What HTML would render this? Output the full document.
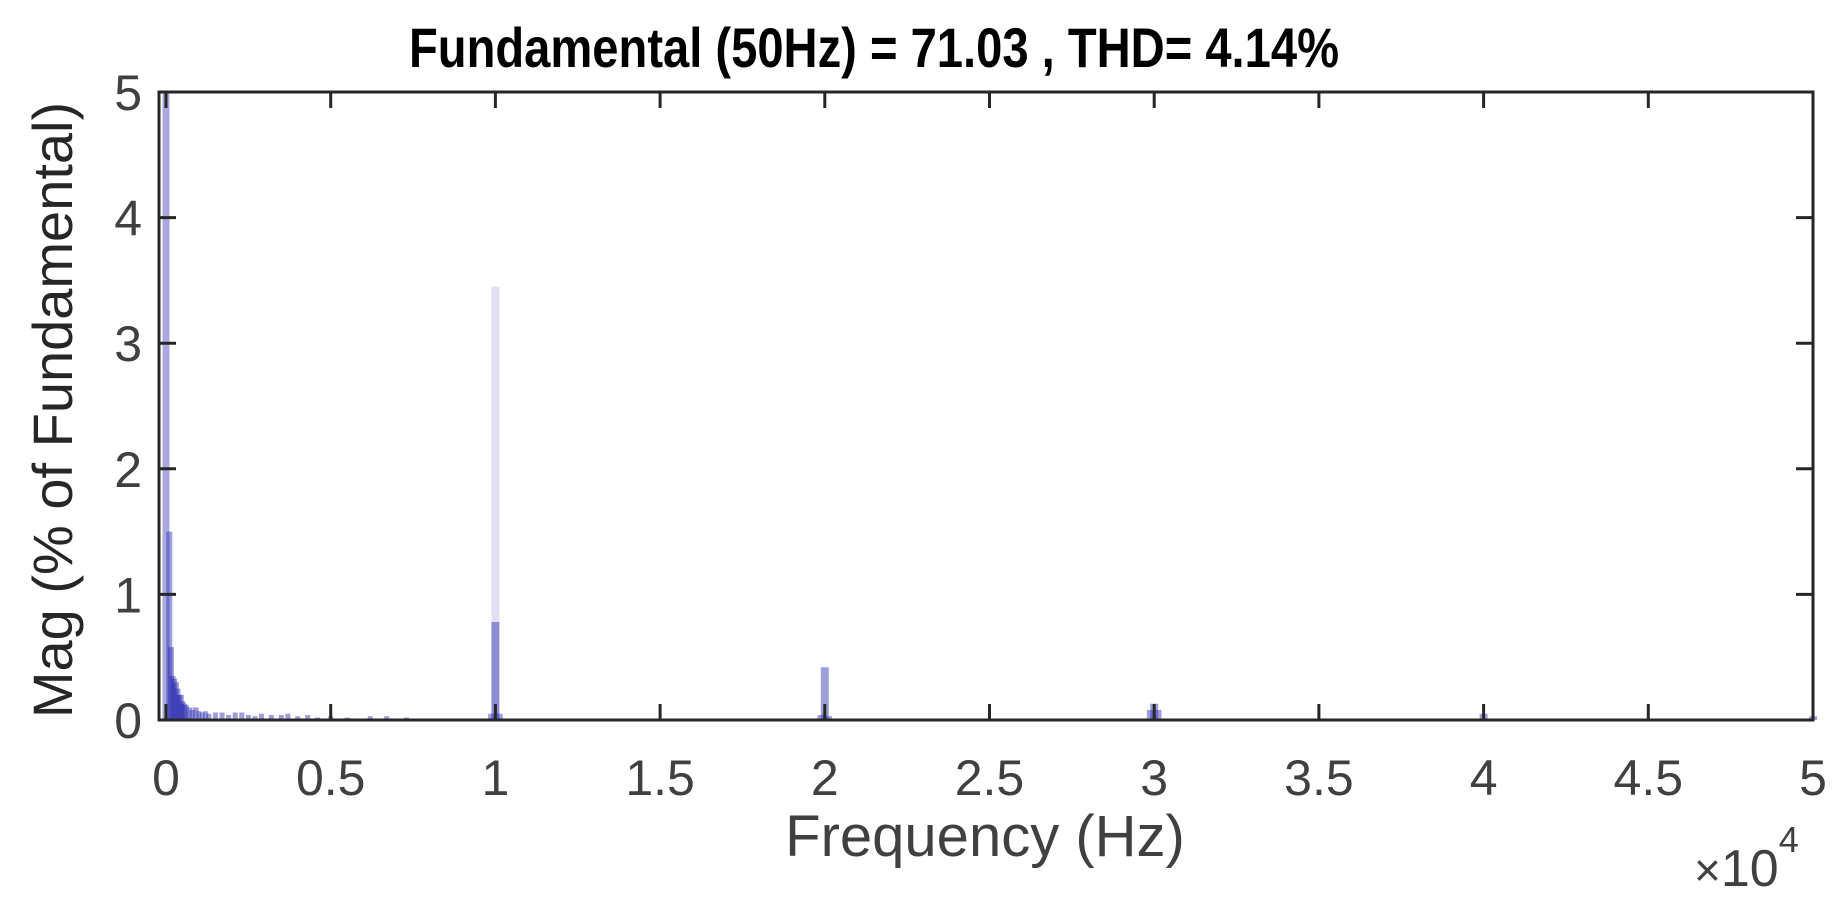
<!DOCTYPE html>
<html><head><meta charset="utf-8"><style>
html,body{margin:0;padding:0;background:#fff;}
svg{display:block;}
text{font-family:"Liberation Sans",sans-serif;}
</style></head><body>
<svg id="chart" width="1844" height="898" viewBox="0 0 1844 898" xmlns="http://www.w3.org/2000/svg">
<rect x="0" y="0" width="1844" height="898" fill="#fff"/>
<text x="874" y="67" text-anchor="middle" font-size="56" font-weight="bold" fill="#000" textLength="930" lengthAdjust="spacingAndGlyphs">Fundamental (50Hz) = 71.03 , THD= 4.14%</text>
<g id="bars"></g>
<g id="axes"></g>
<text transform="translate(72,410) rotate(-90)" text-anchor="middle" font-size="56" fill="#262626">Mag (% of Fundamental)</text>
<text x="985" y="856" text-anchor="middle" font-size="58" fill="#404040">Frequency (Hz)</text>
<text x="1694" y="886" font-size="52" fill="#404040"><tspan font-size="46">×</tspan>10<tspan font-size="36" dy="-34">4</tspan></text>
</svg>
<script>
// data
const freqs = [0,100,150,200,250,300,350,400,450,500,550,600,700,800,900,1000,1100,1200,1300,1500,1700,1900,2100,2300,2500,2700,2900,3200,3500,3700,4000,4300,4600,5000,5500,6200,6700,7300,9900,10000,10100,19900,20000,20100,29900,30000,30100,40000,50000];
const mags  = [100,1.5,0.58,0.35,0.33,0.3,0.25,0.2,0.2,0.15,0.13,0.12,0.1,0.08,0.1,0.07,0.06,0.07,0.05,0.06,0.06,0.04,0.06,0.06,0.04,0.03,0.05,0.04,0.04,0.05,0.03,0.04,0.02,0.03,0.02,0.03,0.03,0.02,0.05,0.78,0.05,0.04,0.42,0.03,0.08,0.13,0.08,0.05,0.03];
const leakFreqs = [10000];
const leakMags = [3.45];
const xTicks = [0,5000,10000,15000,20000,25000,30000,35000,40000,45000,50000];
const xTickLabels = ["0","0.5","1","1.5","2","2.5","3","3.5","4","4.5","5"];
const yTicks = [0,1,2,3,4,5];
const yTickLabels = ["0","1","2","3","4","5"];

const L=159, R=1813, T=92, B=720;
const X0=166, XU=(1813-166)/50000;
const sx = f => X0 + f*XU;
const sy = v => B - (Math.min(v,5))*(B-T)/5;
const NS="http://www.w3.org/2000/svg";
const bars=document.getElementById('bars');
const axes=document.getElementById('axes');
function mk(tag,attrs,parent){const e=document.createElementNS(NS,tag);for(const k in attrs)e.setAttribute(k,attrs[k]);parent.appendChild(e);return e;}

leakFreqs.forEach((f,i)=>{
  const r=mk('rect',{x:sx(f)-4,y:sy(leakMags[i]),width:8,height:B-sy(leakMags[i]),fill:'#e0e0f2'},bars);
  
  
});
freqs.forEach((f,i)=>{
  const w = f===0?7:(f>=9000?8:(f<1000?6:5));
  const r=mk('rect',{x:sx(f)-w/2,y:sy(mags[i]),width:w,height:B-sy(mags[i]),fill:'rgb(40,40,175)','fill-opacity':f===0?0.4:0.45},bars);
  
  
});

// frame
const fr=mk('rect',{x:L,y:T,width:R-L,height:B-T,fill:'none',stroke:'#262626','stroke-width':3},axes);



xTicks.forEach((t,i)=>{
  const x=sx(t);
  const a=mk('line',{x1:x,x2:x,y1:B,y2:B-16,stroke:'#262626','stroke-width':3},axes);
  
  
  const b=mk('line',{x1:x,x2:x,y1:T,y2:T+16,stroke:'#262626','stroke-width':3},axes);
  
  
  const tx=mk('text',{x:x,y:795,'text-anchor':'middle','font-size':50,fill:'#404040'},axes);
  tx.textContent=xTickLabels[i];
  
  
});
yTicks.forEach((t,i)=>{
  const y=sy(t);
  const a=mk('line',{x1:L,x2:L+17,y1:y,y2:y,stroke:'#262626','stroke-width':3},axes);
  
  
  const b=mk('line',{x1:R,x2:R-17,y1:y,y2:y,stroke:'#262626','stroke-width':3},axes);
  
  
  const tx=mk('text',{x:142,y:y+18,'text-anchor':'end','font-size':50,fill:'#404040'},axes);
  tx.textContent=yTickLabels[i];
  
  
});
</script>
</body></html>
